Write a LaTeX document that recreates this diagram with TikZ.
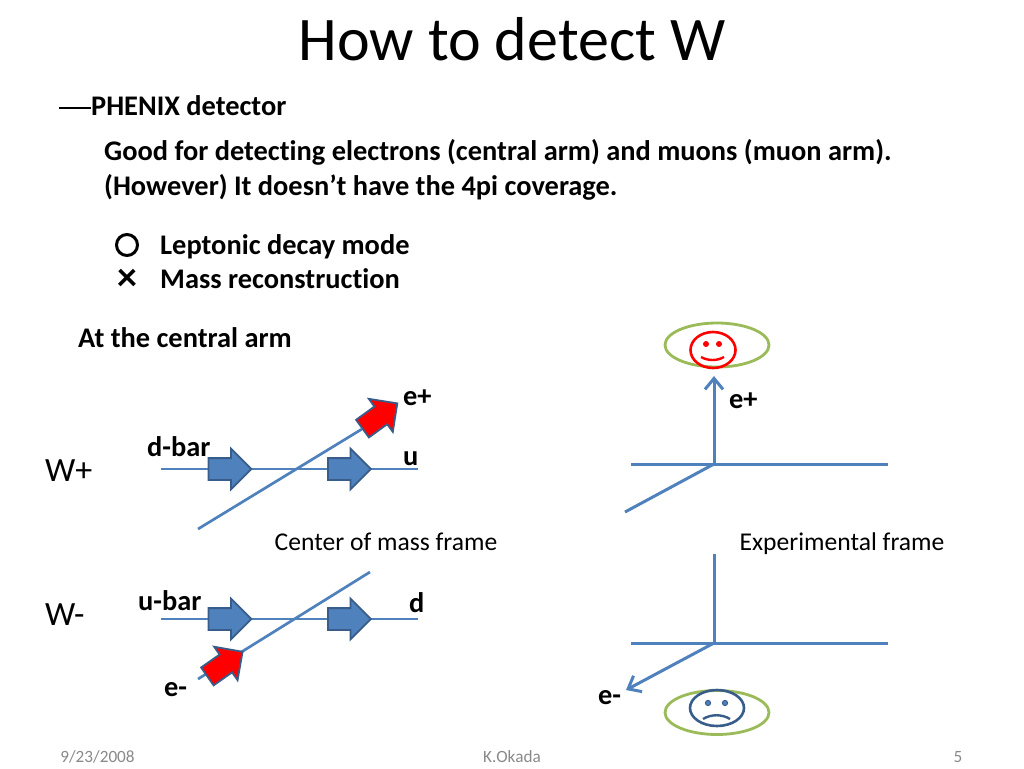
\documentclass[tikz,border=0pt]{standalone}
\usepackage{fontspec}
\usepackage{xcolor}
\setmainfont{Carlito}[Ligatures=NoCommon]
\usetikzlibrary{arrows.meta,positioning,shapes.geometric,shapes.arrows}
\definecolor{lineblue}{HTML}{4F81BD}
\definecolor{edgeblue}{HTML}{385D8A}
\definecolor{ringgreen}{HTML}{9BBB59}
\definecolor{footgray}{HTML}{898989}

\begin{document}
\begin{tikzpicture}[
  x=1pt, y=-1pt,
  title/.style={font=\fontsize{62}{66}\selectfont},
  head/.style={anchor=base west, inner sep=0pt, font=\fontsize{28.4}{32}\selectfont\bfseries},
  plain/.style={anchor=base, inner sep=0pt, font=\fontsize{25.6}{30}\selectfont},
  large/.style={anchor=base west, inner sep=0pt, font=\fontsize{34}{36}\selectfont},
  foot/.style={anchor=base, inner sep=0pt, text=footgray, font=\fontsize{17.2}{20}\selectfont},
  wire/.style={lineblue, line width=2.7pt},
  axis/.style={lineblue, line width=3pt},
  barb/.style={-{Straight Barb[length=11pt,width=18pt]}},
  fat/.style={single arrow, draw=edgeblue, line width=1.8pt, fill=lineblue, minimum height=43pt, minimum width=39pt, single arrow head extend=9.5pt, inner xsep=0pt, inner ysep=10pt},
  fatred/.style={fat, fill=red},
  ring/.style={ellipse, draw=ringgreen, line width=2.8pt, minimum width=104pt, minimum height=44pt, inner sep=0pt},
  face/.style={ellipse, line width=2.6pt, inner sep=0pt, minimum height=36pt}
]
\useasboundingbox (0,0) rectangle (1024,768);

% heading and text block
\node[title, anchor=base] (ttl) at (512,60) {How to detect W};
\node[head] (phenix) at (91,115) {PHENIX detector};
\coordinate (dashstart) at (59,108);
\draw[line width=1.2pt] (dashstart) -- (phenix.west |- dashstart);
\node[head] (good) at (104,160) {Good for detecting electrons (central arm) and muons (muon arm).};
\node[head] (however) at (104,195) {(However) It doesn’t have the 4pi coverage.};
\node[circle, draw, line width=3pt, minimum size=21pt, inner sep=0pt] (okmark) at (127,245) {};
\node[head] (lepton) at (160,254) {Leptonic decay mode};
\node[head, anchor=base, font=\fontsize{40}{40}\selectfont\bfseries] (nomark) at (127,290) {×};
\node[head] (mass) at (160,288) {Mass reconstruction};
\node[head] (central) at (78,347) {At the central arm};

% W+ row
\coordinate (wpl) at (161,469);
\coordinate (wpr) at (418,469);
\coordinate (wpstart) at (198,529);
\node[large] (wplus) at (45,481) {W+};
\draw[wire] (wpl) -- (wpr);
\node[fatred, rotate=36] (redup) at (375.5,419.2) {};
\draw[wire] (wpstart) -- (redup.tail);
\node[fat] (dbarA) at (224.5,469) {};
\node[fat] (dbarB) at (344,469) {};
\node[head] (dbar) at (147,456) {d-bar};
\node[head] (uq) at (403,465) {u};
\node[head] (eplus) at (403,405) {e+};

% W- row
\coordinate (wml) at (161,619);
\coordinate (wmr) at (418,619);
\coordinate (wmstart) at (198,679);
\coordinate (wmend) at (370,572);
\node[large] (wminus) at (45,625) {W-};
\draw[wire] (wml) -- (wmr);
\draw[wire] (wmstart) -- (wmend);
\node[fat] (ubarA) at (224.5,619) {};
\node[fat] (ubarB) at (344,619) {};
\node[fatred, rotate=35] (reddown) at (220.5,667.2) {};
\node[head] (ubar) at (138,610) {u-bar};
\node[head] (dq) at (409,612) {d};
\node[head] (eminus) at (164,696) {e-};

% frame labels
\node[plain] (cm) at (386,550) {Center of mass frame};
\node[plain] (exp) at (842,550) {Experimental frame};

% experimental frame, top
\coordinate (topc) at (714,464);
\coordinate (topl) at (631,464);
\coordinate (topr) at (888,464);
\coordinate (topd) at (625,512);
\coordinate (topu) at (714,376);
\draw[axis] (topl) -- (topr);
\draw[axis] (topd) -- (topc);
\draw[axis, barb] (topc) -- (topu);
\node[head] (epos) at (729,408) {e+};
\node[ring] (ringtop) at (717,345) {};
\node[face, draw=red, minimum width=45pt] (happy) at (713,350) {};
\fill[red] (706,344) circle [radius=3pt] (719,344) circle [radius=3pt];
\draw[red, line width=2.4pt] (701,357) .. controls (708,361) and (717,361) .. (724,357);

% experimental frame, bottom
\coordinate (botc) at (714,643);
\coordinate (botl) at (631,643);
\coordinate (botr) at (888,643);
\coordinate (botd) at (626,690);
\coordinate (botu) at (714,554);
\draw[axis] (botl) -- (botr);
\draw[axis] (botu) -- (botc);
\draw[axis, barb] (botc) -- (botd);
\node[head] (eneg) at (598,704) {e-};
\node[ring] (ringbot) at (717,712.5) {};
\node[face, draw=edgeblue, minimum width=54pt] (sad) at (717,708) {};
\fill[lineblue, draw=edgeblue, line width=1pt] (708,703) circle [radius=2.6pt] (725,703) circle [radius=2.6pt];
\draw[edgeblue, line width=2.4pt] (703,719) .. controls (711,714) and (722,714) .. (730,719);

% footer
\node[foot] (date) at (97.5,762) {9/23/2008};
\node[foot] (auth) at (512,762) {K.Okada};
\node[foot] (page) at (958,762) {5};
\end{tikzpicture}
\end{document}
